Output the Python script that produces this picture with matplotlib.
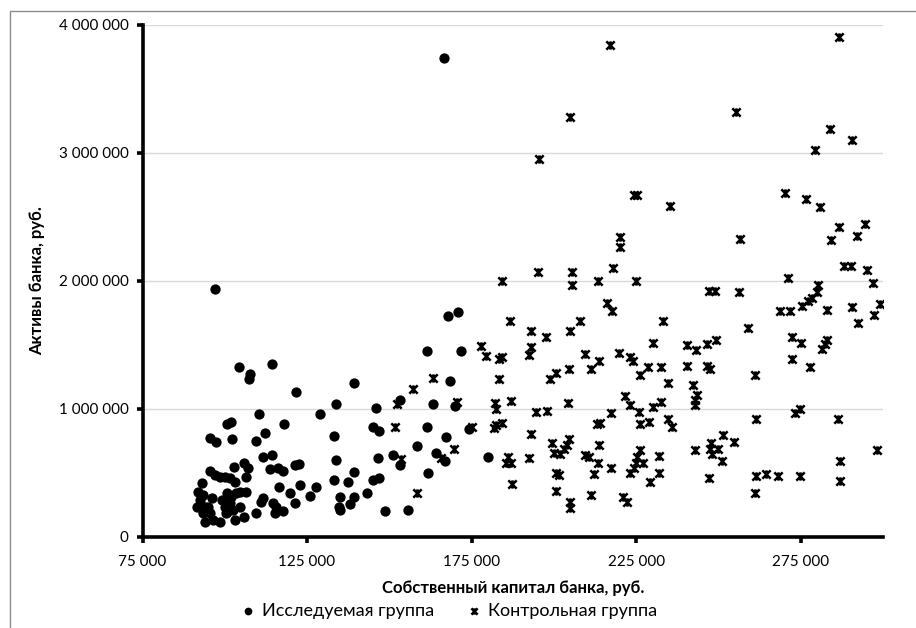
import numpy as np
import matplotlib
matplotlib.use("Agg")
import matplotlib.pyplot as plt
from matplotlib.path import Path
from matplotlib.patches import Rectangle
from matplotlib.ticker import FuncFormatter, FixedLocator

plt.rcParams['font.family'] = ['Lato', 'Noto Sans', 'DejaVu Sans']

# Исследуемая группа: собственный капитал (руб.), активы (руб.)
issl_kapital = [
    97000, 166700,
    104300, 107600, 107400, 114500, 121500, 110400, 128800, 100700, 102000, 118100,
    95450, 97300, 102300, 109400, 112100, 111600, 114500, 121300, 122500, 102800,
    105800, 107100, 106300, 113600, 116100, 117700, 95450, 96970, 98480, 100000,
    101500, 103000,
    92940, 91900, 93420, 92420, 91420, 93940, 93420, 95450, 93940, 96460, 98480,
    95970, 94940,
    99300, 100700, 102000, 103500, 104500, 106400, 100000, 101500, 102500, 104500,
    100500, 103000, 105800, 100700,
    109600, 111600, 111100, 114600, 115700, 115200, 117700, 116500, 119900, 122900,
    127600, 126000, 121400,
    167700, 171000, 161300, 171700, 139200, 168400, 133800, 146000, 153300, 163300,
    169900, 144900, 147000, 133100, 161400, 167200, 158300, 174200, 180000, 133800,
    146500, 151000, 153200, 164300, 167000, 161600, 139200, 133100, 137400, 144900,
    146800, 135100, 139400, 143200, 134600, 135100, 137900, 148800, 155800,
]
issl_aktivy = [
    1934000, 3740000,
    1323000, 1271000, 1237000, 1349000, 1128000, 961000, 961000, 881000, 897000, 883000,
    774000, 738000, 762000, 751000, 808000, 621000, 642000, 564000, 569000, 548000,
    575000, 536000, 465000, 528000, 536000, 517000, 515000, 483000, 470000, 465000,
    458000, 431000,
    419000, 353000, 327000, 288000, 236000, 236000, 185000, 185000, 119000, 133000, 119000,
    302000, 236000,
    288000, 341000, 314000, 341000, 353000, 353000, 236000, 263000, 210000, 236000,
    185000, 133000, 158000, 197000,
    185000, 302000, 275000, 263000, 236000, 185000, 205000, 392000, 345000, 403000,
    392000, 320000, 263000,
    1726000, 1757000, 1450000, 1453000, 1200000, 1219000, 1037000, 1008000, 1068000, 1037000,
    1021000, 860000, 829000, 787000, 855000, 782000, 712000, 840000, 626000, 600000,
    614000, 639000, 561000, 652000, 593000, 497000, 509000, 444000, 431000, 444000,
    458000, 310000, 314000, 345000, 236000, 210000, 257000, 205000, 210000,
]

# Контрольная группа
kontr_kapital = [
    186600, 178000, 179300, 183300, 184100, 183300, 163300, 157300, 152300, 170700,
    182100, 182500, 187100, 151800, 175000, 181800, 182300, 184300, 169700, 153500,
    165700, 186200, 185600, 186900, 187200, 158300,
    216200, 217700, 207800, 204800, 233100, 193100, 197700, 193100, 192400, 230000,
    240400, 243100, 209500, 213600, 211400, 219900, 223200, 223900, 228600, 226300,
    232600, 234800, 240400, 242400, 243400, 204500, 200500, 198700, 194600, 198000,
    204300, 217400, 221500, 223200, 225800, 226300, 228800, 230000, 232600, 234800,
    235800, 243000, 243000, 243000, 213100, 214100, 193100, 199500, 200000, 202000,
    204000, 204500, 203000, 213800, 209400, 210800, 213400, 212100, 217500, 192400,
    200500, 201500, 200700, 204800, 204800, 211400, 220900, 222200, 223000, 224200,
    224800, 226300, 225200, 227000, 229300, 232000, 231800,
    217200, 204800, 195500, 224400, 225400, 235400, 220000, 220200, 217900, 195200,
    205500, 205500, 184300, 213400, 224800,
    286600, 255400, 283800, 279300, 290600, 270200, 276600, 281000, 256400, 286600,
    284300, 294400, 292200, 288100, 290400, 295200, 297000, 271200, 280100, 279800,
    278300, 277300, 275500, 283100, 290600, 299000, 297300, 292400, 268700, 271700,
    247000, 249000, 256100, 258900, 272200, 275100, 272200, 277800, 283100, 281500,
    282300, 246500, 249200, 246500, 247500, 261100, 273200, 274800, 286400, 261300,
    251500, 254800, 247800, 247500, 250000, 248000, 251000, 247000, 261300, 264600,
    268000, 261100, 274800, 286900, 286900, 298300,
]
kontr_aktivy = [
    1687000, 1492000, 1411000, 1393000, 1401000, 1232000, 1242000, 1152000, 1037000, 1055000,
    1047000, 996000, 1060000, 855000, 855000, 848000, 873000, 891000, 684000, 606000,
    614000, 626000, 575000, 575000, 411000, 345000,
    1827000, 1764000, 1687000, 1609000, 1687000, 1609000, 1562000, 1484000, 1419000, 1515000,
    1497000, 1458000, 1427000, 1375000, 1315000, 1440000, 1401000, 1375000, 1328000, 1263000,
    1328000, 1203000, 1333000, 1185000, 1107000, 1315000, 1281000, 1232000, 977000, 982000,
    1042000, 964000, 1099000, 1029000, 977000, 881000, 899000, 1016000, 1055000, 918000,
    860000, 1068000, 1029000, 678000, 881000, 886000, 803000, 731000, 652000, 647000,
    717000, 762000, 684000, 717000, 639000, 621000, 575000, 491000, 540000, 614000,
    501000, 483000, 361000, 275000, 224000, 327000, 310000, 275000, 497000, 536000,
    575000, 678000, 626000, 575000, 431000, 501000, 632000,
    3839000, 3276000, 2949000, 2673000, 2673000, 2585000, 2338000, 2266000, 2102000, 2070000,
    2070000, 1969000, 1995000, 1995000, 1995000,
    3906000, 3316000, 3182000, 3021000, 3102000, 2681000, 2641000, 2579000, 2325000, 2419000,
    2320000, 2440000, 2352000, 2116000, 2116000, 2083000, 1984000, 2022000, 1963000, 1909000,
    1869000, 1843000, 1803000, 1768000, 1794000, 1816000, 1736000, 1669000, 1762000, 1762000,
    1923000, 1923000, 1909000, 1628000, 1561000, 1516000, 1387000, 1325000, 1534000, 1467000,
    1508000, 1508000, 1534000, 1333000, 1315000, 1261000, 971000, 999000, 923000, 918000,
    798000, 738000, 731000, 690000, 690000, 650000, 596000, 462000, 476000, 490000,
    476000, 342000, 476000, 596000, 436000, 677000,
]

x_ticks = [75000, 125000, 175000, 225000, 275000]
y_ticks = [0, 1000000, 2000000, 3000000, 4000000]

# маркер "звёздочка" как в Excel: косой крест + вертикальная черта
zvezda = Path([(-1, -1), (1, 1), (-1, 1), (1, -1), (0, -1), (0, 1)],
              [Path.MOVETO, Path.LINETO, Path.MOVETO, Path.LINETO, Path.MOVETO, Path.LINETO])

fig = plt.figure(figsize=(9.16, 6.28), dpi=100)
ax = fig.add_axes([142.5 / 916, 1 - 537 / 628, (883 - 142.5) / 916, (537 - 24.5) / 628])

ax.scatter(issl_kapital, issl_aktivy, s=55, marker='o', color='black', linewidths=0,
           label='Исследуемая группа', zorder=3)
ax.scatter(kontr_kapital, kontr_aktivy, s=36, marker=zvezda, color='black', linewidths=1.8,
           label='Контрольная группа', zorder=3)

ax.set_xlim(75000, 300000)
ax.set_ylim(0, 4000000)
ax.xaxis.set_major_locator(FixedLocator(x_ticks))
ax.yaxis.set_major_locator(FixedLocator(y_ticks))
fmt = FuncFormatter(lambda v, p: f"{int(round(v)):,}".replace(",", " "))
ax.xaxis.set_major_formatter(fmt)
ax.yaxis.set_major_formatter(fmt)

ax.grid(axis='y', color='#d9d9d9', linewidth=1)
ax.set_axisbelow(True)
for side in ['top', 'right']:
    ax.spines[side].set_visible(False)
for side in ['left', 'bottom']:
    ax.spines[side].set_linewidth(2.6)
ax.tick_params(axis='both', length=4, width=2.6, labelsize=11, colors='black')
ax.tick_params(axis='x', pad=9)
ax.tick_params(axis='y', pad=6)

ax.set_xlabel('Собственный капитал банка, руб.', fontsize=12, fontweight='bold', labelpad=8)
ax.set_ylabel('Активы банка, руб.', fontsize=12, fontweight='bold', labelpad=10)

leg = fig.legend(loc='center', bbox_to_anchor=(0.49, 1 - 611 / 628), ncol=2, frameon=False,
                 fontsize=13, handlelength=0.8, handletextpad=0.4, columnspacing=1.8,
                 markerscale=0.75)

# рамка вокруг рисунка
fig.patches.append(Rectangle((10 / 916, -0.1), 1.2, 1 - 11 / 628 + 0.1, transform=fig.transFigure,
                             fill=False, edgecolor='#8c8c8c', linewidth=1))

plt.savefig("out.png", dpi=100)
